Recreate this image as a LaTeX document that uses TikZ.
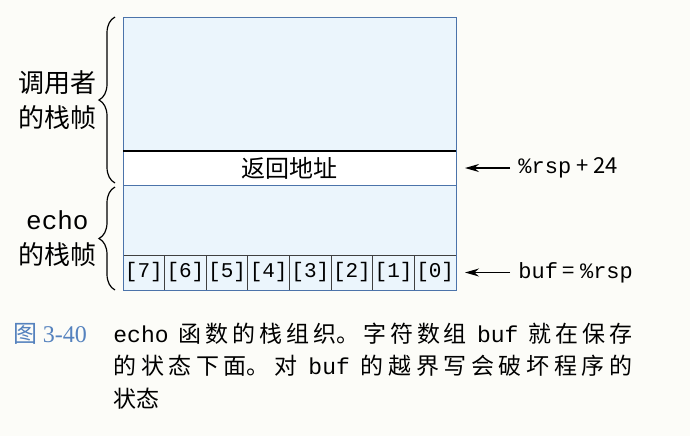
\documentclass[tikz,border=0pt]{standalone}
\usepackage{fontspec}
\setmainfont{Noto Sans CJK SC}
\setmonofont{Liberation Mono}
\newfontfamily\fignum{Liberation Serif}
\usetikzlibrary{positioning,arrows.meta,decorations.pathreplacing}
\XeTeXlinebreaklocale "zh"
\XeTeXlinebreakskip=0pt plus 1pt

\definecolor{paper}{RGB}{252,252,248}
\definecolor{stackfill}{RGB}{235,245,252}
\definecolor{stackline}{RGB}{75,115,170}
\definecolor{figblue}{RGB}{85,130,190}

\begin{document}
\begin{tikzpicture}[
    node distance = 0mm,
every node/.style = {inner sep=2pt},
    frame/.style = {draw=stackline, fill=stackfill, minimum width=166.5pt, outer sep=0pt},
    cell/.style  = {draw=black!75, fill=stackfill, minimum width=20.8125pt,
                    minimum height=17.5pt, inner xsep=0pt, outer sep=0pt,
                    font=\ttfamily\fontsize{10.5}{12}\selectfont},
    brace/.style = {decorate, decoration={brace, amplitude=8pt}, line width=0.6pt},
    side/.style  = {align=center, font=\fontsize{13}{17.5}\selectfont},
    reg/.style   = {font=\fontsize{11}{13}\selectfont},
    arr/.style   = {-{Stealth[length=7pt,width=4pt]}, line width=0.6pt}]
\fill[paper] (0,0) rectangle (345pt,-218pt);
\node[frame, minimum height=67pt, anchor=north west] (caller) at (61.5pt,-8.5pt) {};
\node[frame, minimum height=17pt, fill=white, below=of caller,
      font=\fontsize{12}{14}\selectfont] (ret) {返回地址};
\node[frame, minimum height=35pt, below=of ret] (echo) {};
\node[cell, below right=of echo.south west] (b7) {[7]};
\foreach \i [evaluate=\i as \j using int(\i+1)] in {6,...,0}
    \node[cell, right=of b\j] (b\i) {[\i]};
\draw[stackline, line width=0.5pt] (caller.north west) rectangle (b0.south east);
\draw[line width=0.8pt] (ret.north west) -- (ret.north east);
\draw[brace] ([xshift=-4pt,yshift=1pt]ret.south west) --
    node[side, left=7pt] (callerlbl) {调用者\\的栈帧} ([xshift=-4pt]caller.north west);
\draw[brace] ([xshift=-4pt]b7.south west) --
    node[side, left=7pt] (echolbl) {\texttt{echo}\\的栈帧} ([xshift=-4pt,yshift=-1pt]echo.north west);
\node[reg, right=29pt of ret] (rsp) {\texttt{\%rsp} + 24};
\node[reg, right=29pt of b0] (bufrsp) {\texttt{buf} = \texttt{\%rsp}};
\draw[arr, shorten <=2pt, shorten >=4.5pt] (rsp) -- (ret);
\draw[arr, shorten <=2pt, shorten >=4.5pt] (bufrsp) -- (b0);
\node[anchor=base west, inner sep=0pt, text=figblue,
      font=\fontsize{12}{16.25}\selectfont] (fig) at (6.5pt,-171pt) {图 {\fignum 3-40}};
\node[anchor=base west, inner sep=0pt, text width=259.5pt, align=justify,
      font=\fontsize{11.5}{16.25}\selectfont] (cap) at (56.5pt,-171pt)
    {\texttt{echo} 函数的栈组织。字符数组 \texttt{buf} 就在保存\linebreak
     的状态下面。对 \texttt{buf} 的越界写会破坏程序的\linebreak 状态};
\end{tikzpicture}
\end{document}
